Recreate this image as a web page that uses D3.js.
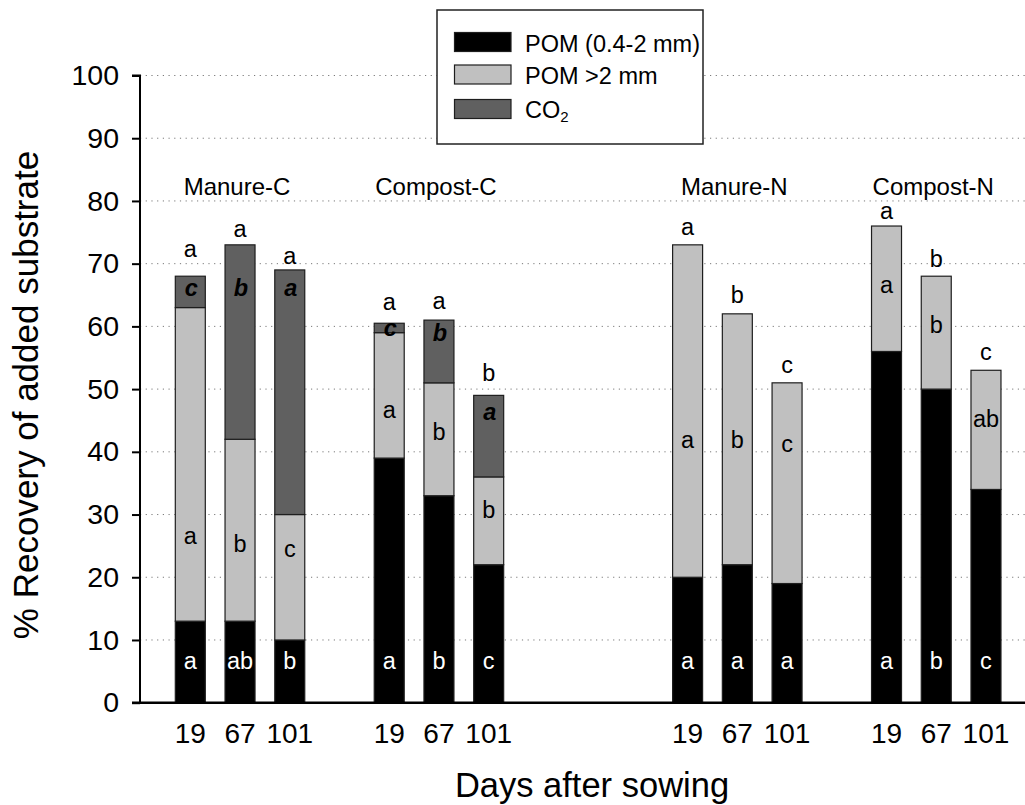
<!DOCTYPE html>
<html>
<head>
<meta charset="utf-8">
<script src="https://cdn.jsdelivr.net/npm/d3@7"></script>
<style>
  html, body { margin: 0; padding: 0; background: #fff; }
  svg { display: block; font-family: "Liberation Sans", Arial, Helvetica, sans-serif; }
</style>
</head>
<body>
<svg id="chart" width="1025" height="805"></svg>
<script>
// Treatments and sampling dates
const groups = ["Manure-C", "Compost-C", "Manure-N", "Compost-N"];
const days = ["19", "67", "101"];

// % recovery of added substrate, one value per bar (group x day)
const pomFine   = [13, 13, 10, 39, 33, 22, 20, 22, 19, 56, 50, 34];  // POM (0.4-2 mm)
const pomCoarse = [50, 29, 20, 20, 18, 14, 53, 40, 32, 20, 18, 19];  // POM >2 mm
const co2       = [5, 31, 39, 1.5, 10, 13, 0, 0, 0, 0, 0, 0];         // CO2

// Significance letters
const fineLetters   = ["a", "ab", "b", "a", "b", "c", "a", "a", "a", "a", "b", "c"];
const coarseLetters = ["a", "b", "c", "a", "b", "b", "a", "b", "c", "a", "b", "ab"];
const co2Letters    = ["c", "b", "a", "c", "b", "a", "", "", "", "", "", ""];
const topLetters    = ["a", "a", "a", "a", "a", "b", "a", "b", "c", "a", "b", "c"];

const yTicks = [0, 10, 20, 30, 40, 50, 60, 70, 80, 90, 100];

const seriesNames = ["POM (0.4-2 mm)", "POM >2 mm", "CO2"];
const seriesColors = ["#000000", "#c0c0c0", "#606060"];

// ---- layout ----
const gapSlots = [1, 3, 1];           // empty slots between treatment groups
const topLift = [19, 8, 6, 13, 11, 14, 10, 11, 10, 7, 9, 10];           // px above bar top
const coarseLabelAt = [25.3, 24, 23.3, 45.4, 41.9, 29.4, 40.6, 40.6, 40.0, 65.3, 58.9, 43.9];
const co2LabelAt = [64.8, 64.8, 64.8, 58.4, 57.7, 45.1];
const fineLabelAt = 5.3;

const svg = d3.select("#chart");

// slot domain: bars plus spacer slots
const slots = [];
const bars = [];
groups.forEach((g, gi) => {
  days.forEach((d, di) => {
    const key = g + "|" + d;
    slots.push(key);
    const i = gi * days.length + di;
    bars.push({ key, group: g, day: d, i });
  });
  if (gi < gapSlots.length) {
    for (let k = 0; k < gapSlots[gi]; k++) slots.push("gap" + gi + "_" + k);
  }
});

const pIn = 0.397, pOut = 0.71, step = 49.73;
const x0 = 140;
const x = d3.scaleBand()
  .domain(slots)
  .range([x0, x0 + step * (slots.length - pIn + 2 * pOut)])
  .paddingInner(pIn)
  .paddingOuter(pOut);

const y = d3.scaleLinear().domain([0, 100]).range([702.7, 75.5]);

// dotted gridlines
svg.append("g")
  .selectAll("line")
  .data(yTicks.filter(v => v > 0))
  .join("line")
  .attr("x1", x0)
  .attr("x2", 1040)
  .attr("y1", d => y(d))
  .attr("y2", d => y(d))
  .attr("stroke", "#7a7a7a")
  .attr("stroke-width", 1)
  .attr("stroke-dasharray", "1.2,4.5");

// stacked bars
const stackData = bars.map(b => ({
  key: b.key,
  fine: pomFine[b.i],
  coarse: pomCoarse[b.i],
  co2: co2[b.i]
}));
const stack = d3.stack().keys(["fine", "coarse", "co2"]);
const layers = stack(stackData);

const barG = svg.append("g");
layers.forEach((layer, li) => {
  barG.append("g")
    .selectAll("rect")
    .data(layer.filter(s => s[1] - s[0] > 0))
    .join("rect")
    .attr("x", s => x(s.data.key))
    .attr("width", x.bandwidth())
    .attr("y", s => y(s[1]))
    .attr("height", s => y(s[0]) - y(s[1]))
    .attr("fill", seriesColors[li])
    .attr("stroke", "#1e1e1e")
    .attr("stroke-width", 1.2);
});

// letters
const letterSize = 23.5;
const lab = svg.append("g").attr("text-anchor", "middle").attr("font-size", letterSize);

lab.selectAll("text.fine")
  .data(bars)
  .join("text")
  .attr("class", "fine")
  .attr("x", b => x(b.key) + x.bandwidth() / 2)
  .attr("y", y(fineLabelAt))
  .attr("fill", "#ffffff")
  .text(b => fineLetters[b.i]);

lab.selectAll("text.coarse")
  .data(bars)
  .join("text")
  .attr("class", "coarse")
  .attr("x", b => x(b.key) + x.bandwidth() / 2)
  .attr("y", b => y(coarseLabelAt[b.i]))
  .attr("fill", "#000")
  .text(b => coarseLetters[b.i]);

lab.selectAll("text.co2")
  .data(bars.filter(b => co2Letters[b.i]))
  .join("text")
  .attr("class", "co2")
  .attr("x", b => x(b.key) + x.bandwidth() / 2 + 1)
  .attr("y", b => y(co2LabelAt[b.i]))
  .attr("fill", "#000")
  .attr("font-weight", "bold")
  .attr("font-style", "italic")
  .text(b => co2Letters[b.i]);

lab.selectAll("text.top")
  .data(bars)
  .join("text")
  .attr("class", "top")
  .attr("x", b => x(b.key) + x.bandwidth() / 2)
  .attr("y", b => y(pomFine[b.i] + pomCoarse[b.i] + co2[b.i]) - topLift[b.i])
  .attr("fill", "#000")
  .text(b => topLetters[b.i]);

// treatment labels over each group
svg.append("g")
  .attr("text-anchor", "middle")
  .attr("font-size", 24)
  .selectAll("text")
  .data(groups)
  .join("text")
  .attr("x", g => x(g + "|" + days[1]) + x.bandwidth() / 2 - 3)
  .attr("y", 195)
  .text(g => g);

// y axis
const yAxis = svg.append("g")
  .attr("transform", `translate(${x0},0)`)
  .call(d3.axisLeft(y).tickValues(yTicks).tickSize(8).tickPadding(13).tickFormat(d3.format("d")));
yAxis.select(".domain").attr("stroke", "#000").attr("stroke-width", 2).attr("d", `M-8,${y(100)}H0V${y(0)}`);
yAxis.selectAll(".tick line").attr("stroke", "#000").attr("stroke-width", 2);
yAxis.selectAll(".tick text")
  .attr("font-size", 28.5)
  .attr("fill", "#000")
  .attr("font-family", "Liberation Sans, Arial, sans-serif");

// x axis with day labels
const xAxis = svg.append("g")
  .attr("transform", `translate(0,${y(0)})`)
  .call(d3.axisBottom(x)
    .tickValues(bars.map(b => b.key))
    .tickSize(0)
    .tickPadding(20)
    .tickFormat(k => k.split("|")[1]));
xAxis.select(".domain").attr("stroke", "#000").attr("stroke-width", 2.4)
  .attr("d", `M${x0 - 8},0H${x.range()[1]}`);
xAxis.selectAll(".tick text")
  .attr("font-size", 28)
  .attr("fill", "#000")
  .attr("font-family", "Liberation Sans, Arial, sans-serif");

// axis titles
svg.append("text")
  .attr("transform", "translate(38,395) rotate(-90)")
  .attr("text-anchor", "middle")
  .attr("font-size", 35)
  .attr("fill", "#000")
  .text("% Recovery of added substrate");

svg.append("text")
  .attr("x", 592)
  .attr("y", 797)
  .attr("text-anchor", "middle")
  .attr("font-size", 34.5)
  .attr("fill", "#000")
  .text("Days after sowing");

// legend
const legend = svg.append("g");
legend.append("rect")
  .attr("x", 437).attr("y", 10)
  .attr("width", 266).attr("height", 134)
  .attr("fill", "#fff")
  .attr("stroke", "#222")
  .attr("stroke-width", 1.5);

const rowTop = [32.5, 65, 99.5];
const rowBase = [51.5, 83.5, 118];
seriesNames.forEach((name, i) => {
  legend.append("rect")
    .attr("x", 454.5).attr("y", rowTop[i])
    .attr("width", 56.5).attr("height", 19)
    .attr("fill", seriesColors[i])
    .attr("stroke", "#1e1e1e")
    .attr("stroke-width", 1.2);
  const t = legend.append("text")
    .attr("x", 525).attr("y", rowBase[i])
    .attr("font-size", 23.5)
    .attr("fill", "#000");
  if (name === "CO2") {
    t.append("tspan").text("CO");
    t.append("tspan").attr("font-size", 15).attr("dy", 4).text("2");
  } else {
    t.text(name);
  }
});
</script>
</body>
</html>
